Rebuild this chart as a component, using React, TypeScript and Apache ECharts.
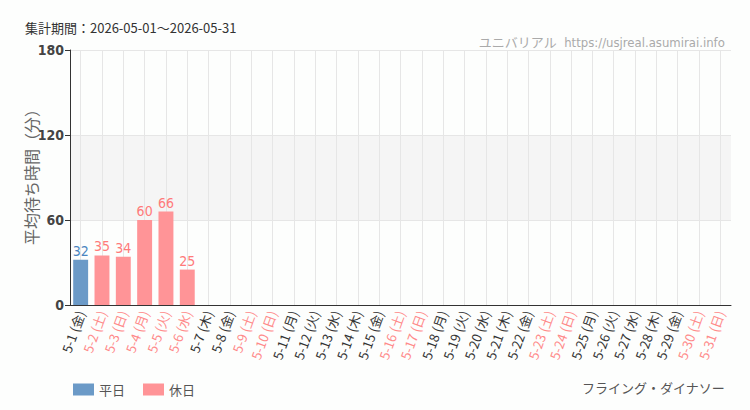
import React, { useEffect, useRef } from "react";
import * as echarts from "echarts";

const days = [
  "5-1 (金)", "5-2 (土)", "5-3 (日)", "5-4 (月)", "5-5 (火)", "5-6 (水)", "5-7 (木)",
  "5-8 (金)", "5-9 (土)", "5-10 (日)", "5-11 (月)", "5-12 (火)", "5-13 (水)", "5-14 (木)",
  "5-15 (金)", "5-16 (土)", "5-17 (日)", "5-18 (月)", "5-19 (火)", "5-20 (水)", "5-21 (木)",
  "5-22 (金)", "5-23 (土)", "5-24 (日)", "5-25 (月)", "5-26 (火)", "5-27 (水)", "5-28 (木)",
  "5-29 (金)", "5-30 (土)", "5-31 (日)",
];
const holidayFlags = [
  0, 1, 1, 1, 1, 1, 0, 0, 1, 1, 0, 0, 0, 0, 0, 1, 1, 0, 0, 0, 0, 0, 1, 1, 0, 0, 0, 0, 0, 1, 1,
];
const waitValues: (number | null)[] = [
  32, 35, 34, 60, 66, 25, null, null, null, null, null, null, null, null, null, null,
  null, null, null, null, null, null, null, null, null, null, null, null, null, null, null,
];
const yTicks = [0, 60, 120, 180];

const BLUE = "#6b9ac7";
const PINK = "#ff9497";
const CJK = "'Noto Sans CJK JP', 'Noto Sans', sans-serif";
const COND = "'Liberation Sans Narrow', 'DejaVu Sans Condensed', 'Noto Sans CJK JP', sans-serif";

export default function App() {
  const ref = useRef<HTMLDivElement>(null);
  useEffect(() => {
    if (!ref.current) return;
    const chart = echarts.init(ref.current, undefined, { renderer: "svg" });
    const weekday = waitValues.map((v, i) => (holidayFlags[i] ? "-" : v == null ? "-" : v));
    const holiday = waitValues.map((v, i) => (!holidayFlags[i] ? "-" : v == null ? "-" : v));
    chart.setOption({
      animation: false,
      backgroundColor: "#fdfefd",
      title: [
        {
          text: "集計期間：2026-05-01～2026-05-31",
          left: 20,
          top: 16,
          textStyle: { fontFamily: CJK, fontSize: 13, fontWeight: "normal", color: "#333" },
        },
        {
          text: "ユニバリアル  https://usjreal.asumirai.info",
          right: 20,
          top: 31,
          textStyle: { fontFamily: COND, fontSize: 13, fontWeight: "normal", color: "#aaa" },
        },
        {
          text: "フライング・ダイナソー",
          right: 20,
          top: 376,
          textStyle: { fontFamily: CJK, fontSize: 13, fontWeight: "normal", color: "#555" },
        },
      ],
      graphic: [
        {
          type: "text",
          x: 31,
          y: 173,
          rotation: Math.PI / 2,
          style: {
            text: "平均待ち時間（分）",
            font: "16px 'Noto Sans CJK JP', sans-serif",
            fill: "#666",
            align: "center",
            verticalAlign: "middle",
          },
        },
      ],
      legend: {
        left: 68,
        top: 378,
        icon: "rect",
        itemWidth: 21,
        itemHeight: 12,
        itemGap: 18,
        textStyle: { fontFamily: CJK, fontSize: 13, color: "#555" },
        data: ["平日", "休日"],
      },
      grid: { left: 70, right: 19, top: 50, bottom: 105 },
      xAxis: {
        type: "category",
        data: days,
        axisLine: { lineStyle: { color: "#333" } },
        axisTick: { alignWithLabel: true, lineStyle: { color: "#333" } },
        splitLine: { show: false },
        axisLabel: {
          interval: 0,
          rotate: 70,
          fontFamily: CJK,
          fontSize: 13,
          margin: 6,
          color: (_v: string, i: number) => (holidayFlags[i] ? "#ff8a8a" : "#333"),
        },
      },
      yAxis: {
        type: "value",
        min: yTicks[0],
        max: yTicks[yTicks.length - 1],
        interval: 60,
        axisLine: { show: true, lineStyle: { color: "#333" } },
        axisTick: { show: true, lineStyle: { color: "#333" } },
        axisLabel: { fontFamily: COND, fontSize: 14, color: "#444", fontWeight: "bold", margin: 6 },
        splitLine: { lineStyle: { color: "#e6e6e6" } },
        splitArea: { show: true, areaStyle: { color: ["rgba(255,255,255,0)", "#f5f5f5"] } },
      },
      series: [
        {
          name: "grid-lines",
          type: "line",
          data: [],
          z: 1,
          silent: true,
          markLine: {
            silent: true,
            z: 1,
            symbol: "none",
            label: { show: false },
            lineStyle: { color: "#e6e6e6", type: "solid", width: 1 },
            data: days.map((d) => ({ xAxis: d })),
          },
        },
        {
          name: "平日",
          type: "bar",
          data: weekday,
          barWidth: "70%",
          barGap: "-100%",
          z: 3,
          itemStyle: { color: BLUE },
          label: {
            show: true,
            position: "top",
            distance: 2,
            fontFamily: COND,
            fontSize: 14,
            color: "#4a85c0",
          },
        },
        {
          name: "休日",
          type: "bar",
          data: holiday,
          barWidth: "70%",
          barGap: "-100%",
          z: 3,
          itemStyle: { color: PINK },
          label: {
            show: true,
            position: "top",
            distance: 2,
            fontFamily: COND,
            fontSize: 14,
            color: "#ff7a7a",
          },
        },
      ],
    });
    return () => chart.dispose();
  }, []);
  return (
    <div
      ref={ref}
      style={{ position: "fixed", left: 0, top: 0, width: 750, height: 410 }}
    />
  );
}
